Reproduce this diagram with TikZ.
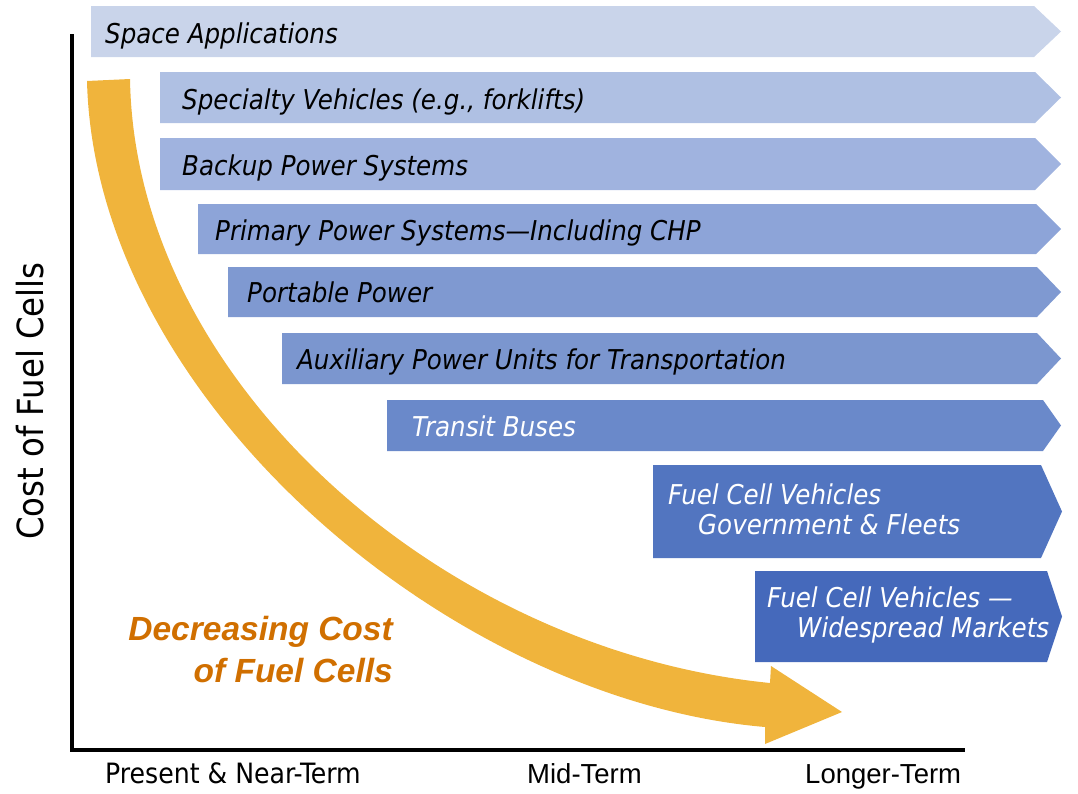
\documentclass[tikz,border=0pt]{standalone}
\usepackage{fontspec}
\setmainfont{DejaVu Sans Condensed}
\newfontfamily\arialfont{Liberation Sans}
\usepackage{xcolor}
\usepackage{tikz}

\definecolor{spacecol}{HTML}{C9D4EA}
\definecolor{specialtycol}{HTML}{AFC0E3}
\definecolor{backupcol}{HTML}{A0B3DF}
\definecolor{primarycol}{HTML}{8DA4D8}
\definecolor{portablecol}{HTML}{7F99D1}
\definecolor{auxcol}{HTML}{7B96CF}
\definecolor{transitcol}{HTML}{6A89CA}
\definecolor{fleetcol}{HTML}{5275C0}
\definecolor{marketcol}{HTML}{4569BB}
\definecolor{costorange}{HTML}{F0B43C}
\definecolor{costtext}{HTML}{D06F00}

\tikzset{
	bartext/.style={anchor=base west, inner sep=0pt, font=\fontsize{27.3}{30}\selectfont\itshape},
	twoline/.style={anchor=north west, inner sep=0pt, align=left, font=\fontsize{27.3}{30}\selectfont\itshape, white},
	termlabel/.style={anchor=base west, inner sep=0pt},
}

\begin{document}
\begin{tikzpicture}[x=1pt, y=-1pt]
			\useasboundingbox (0,0) rectangle (1078,793);

			% market bars
			\fill[spacecol] (91,6) -- (1034,6) -- (1061,31.5) -- (1034,57) -- (91,57) -- cycle;
			\fill[specialtycol] (160,72) -- (1035,72) -- (1061,97.5) -- (1035,123) -- (160,123) -- cycle;
			\fill[backupcol] (160,138) -- (1035,138) -- (1061,164) -- (1035,190) -- (160,190) -- cycle;
			\fill[primarycol] (198,204) -- (1036,204) -- (1061,229) -- (1036,254) -- (198,254) -- cycle;
			\fill[portablecol] (228,267) -- (1037,267) -- (1061,292) -- (1037,317) -- (228,317) -- cycle;
			\fill[auxcol] (282,333) -- (1037,333) -- (1061,358.5) -- (1037,384) -- (282,384) -- cycle;
			\fill[transitcol] (387,400) -- (1043,400) -- (1061,425.5) -- (1043,451) -- (387,451) -- cycle;
			\fill[fleetcol] (653,465) -- (1041,465) -- (1062,511.5) -- (1041,558) -- (653,558) -- cycle;
			\fill[marketcol] (755,571) -- (1047,571) -- (1062,616.5) -- (1047,662) -- (755,662) -- cycle;

			\node[bartext] (space) at (105,43) {Space Applications};
			\node[bartext] (specialty) at (182,109) {Specialty Vehicles (e.g., forklifts)};
			\node[bartext] (backup) at (182,175.5) {Backup Power Systems};
			\node[bartext] (primary) at (215,240) {Primary Power Systems—Including CHP};
			\node[bartext] (portable) at (247,302) {Portable Power};
			\node[bartext] (aux) at (297,369) {Auxiliary Power Units for Transportation};
			\node[bartext, white] (transit) at (412,436) {Transit Buses};
			\node[twoline] (fleets) at (668,484) {Fuel Cell Vehicles\\\hspace*{30pt}Government \& Fleets};
			\node[twoline] (markets) at (767,587) {Fuel Cell Vehicles —\\\hspace*{30pt}Widespread Markets};

			% falling cost arrow
			\fill[costorange] (87,81) .. controls (95,400) and (450,700) .. (765,727)
				-- (765,744) -- (842,712) -- (771,666) -- (770,683)
				.. controls (440,650) and (135,380) .. (130,79) -- cycle;
			\node[anchor=north east, inner sep=0pt, align=right, text=costtext,
				font=\arialfont\fontsize{33.5}{42}\selectfont\bfseries\itshape] (decreasing) at (393,616)
				{Decreasing Cost\\of Fuel Cells};

			% axes
			\coordinate (origin) at (72,750);
			\draw[line width=4pt] (72,34) -- (origin) -- (965,750);
			\node[anchor=base, inner sep=0pt, rotate=90, font=\fontsize{36}{38}\selectfont] (costaxis) at (43,401) {Cost of Fuel Cells};
			\node[termlabel, font=\fontsize{28}{30}\selectfont] (present) at (105,783) {Present \& Near-Term};
			\node[termlabel, font=\arialfont\fontsize{27.5}{30}\selectfont] (mid) at (527,783) {Mid-Term};
			\node[termlabel, font=\arialfont\fontsize{27.5}{30}\selectfont] (longer) at (805,783) {Longer-Term};
		\end{tikzpicture}
\end{document}
